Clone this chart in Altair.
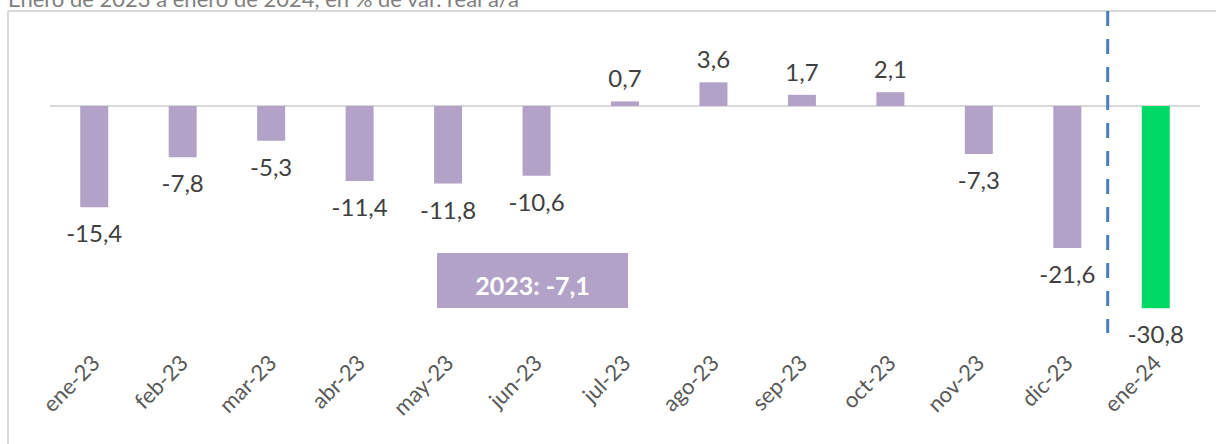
import altair as alt
import pandas as pd

months = ["ene-23", "feb-23", "mar-23", "abr-23", "may-23", "jun-23", "jul-23",
          "ago-23", "sep-23", "oct-23", "nov-23", "dic-23", "ene-24"]
values = [-15.4, -7.8, -5.3, -11.4, -11.8, -10.6, 0.7, 3.6, 1.7, 2.1, -7.3, -21.6, -30.8]
series = ["2023"] * 12 + ["2024"]
title_text = "Enero de 2023 a enero de 2024, en % de var. real a/a"
box_text = "2023: -7,1"

df = pd.DataFrame({
    "mes": months,
    "v": values,
    "z": [0.0] * len(values),
    "serie": series,
    "lab": [f"{v:.1f}".replace(".", ",") for v in values],
})

FONT = "Lato"
W, H = 1150, 329
one = pd.DataFrame({"k": [0]})
ydom = [-35.62, 14.46]

x = alt.X("mes:N", sort=months, title=None,
          scale=alt.Scale(paddingInner=0, paddingOuter=0),
          axis=alt.Axis(labelAngle=-45, labelAlign="right", labelBaseline="middle",
                        labelPadding=19, labelFontSize=22, labelColor="#595959",
                        labelFont=FONT, labelOffset=2, domain=False, ticks=False, grid=False))
y = alt.Y("v:Q", title=None, scale=alt.Scale(domain=ydom, nice=False, zero=False), axis=None)

base = alt.Chart(df)

zero = alt.Chart(pd.DataFrame({"z": [0.0]})).mark_rule(color="#d9d9d9", strokeWidth=2).encode(
    x=alt.value(0), x2=alt.value(W),
    y=alt.Y("z:Q", scale=alt.Scale(domain=ydom, nice=False, zero=False), axis=None))

bars = base.mark_bar(size=28).encode(
    x=x, y=y, y2="z:Q",
    color=alt.Color("serie:N", legend=None,
                    scale=alt.Scale(domain=["2023", "2024"], range=["#b3a2c7", "#00d966"])))

pos = base.transform_filter("datum.v >= 0").mark_text(
    dy=-14, baseline="alphabetic", fontSize=24, font=FONT, color="#404040").encode(
    x=x, y=y, text="lab:N")
neg = base.transform_filter("datum.v < 0").mark_text(
    dy=35, baseline="alphabetic", fontSize=24, font=FONT, color="#404040").encode(
    x=x, y=y, text="lab:N")

frame_top = alt.Chart(one).mark_rule(color="#d9d9d9", strokeWidth=2).encode(
    x=alt.value(-42), x2=alt.value(W + 20), y=alt.value(0))
frame_left = alt.Chart(one).mark_rule(color="#d9d9d9", strokeWidth=2).encode(
    x=alt.value(-42), y=alt.value(0), y2=alt.value(H + 120))

dash = alt.Chart(one).mark_rule(color="#4a7ebb", strokeWidth=3, strokeDash=[15, 13]).encode(
    x=alt.value(1057.7), y=alt.value(0), y2=alt.value(322))

box = alt.Chart(one).mark_rect(color="#b3a2c7").encode(
    x=alt.value(387), x2=alt.value(578), y=alt.value(242), y2=alt.value(297))
box_lab = alt.Chart(pd.DataFrame({"t": [box_text]})).mark_text(
    color="white", fontSize=25, fontWeight="bold", font=FONT, baseline="alphabetic",
    align="center").encode(x=alt.value(482.5), y=alt.value(284), text="t:N")

title = alt.Chart(pd.DataFrame({"t": [title_text]})).mark_text(
    color="#7f7f7f", fontSize=22, font=FONT, baseline="alphabetic", align="left").encode(
    x=alt.value(-42), y=alt.value(-4), text="t:N")

chart = alt.layer(frame_top, frame_left, zero, bars, pos, neg, dash, box, box_lab, title).properties(
    width=W, height=H,
    padding={"left": 50, "top": 11, "right": 16, "bottom": 104},
    autosize=alt.AutoSizeParams(type="none"),
).configure_view(strokeWidth=0)

chart.save("out.html", embed_options={"renderer": "svg", "actions": False})
